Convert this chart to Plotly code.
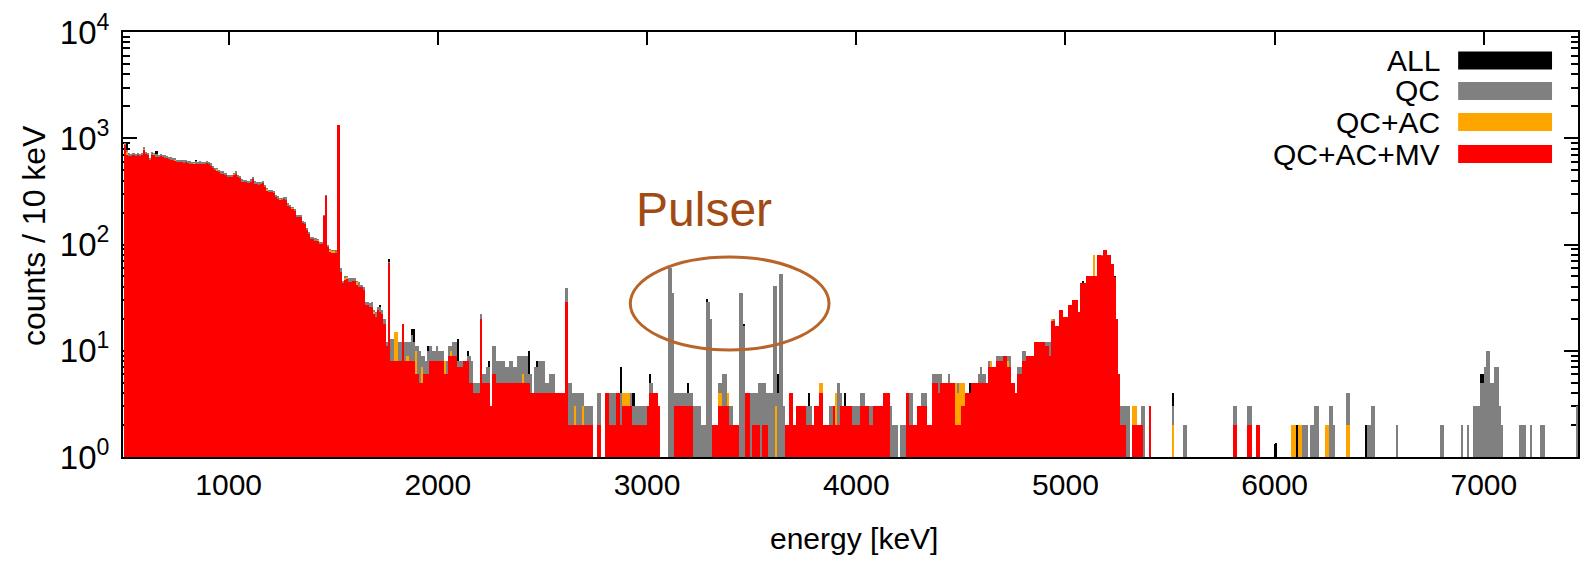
import plotly.graph_objects as go

# ---------------- data (counts per 10 keV bin, bin left edges 500 ... 7440 keV) ----------------
bin_start = 500
bin_width = 10

qc_counts = (
    [900, 770, 720, 715, 720, 710, 720, 715, 720, 830] +      # 500
    [750, 730, 650, 745, 720, 710, 700, 710, 695, 690] +      # 600
    [680, 670, 660, 650, 645, 625, 625, 625, 620, 625] +      # 700
    [610, 605, 600, 600, 605, 600, 605, 600, 600, 610] +      # 800
    [600, 580, 545, 530, 520, 500, 490, 490, 470, 455] +      # 900
    [450, 455, 470, 490, 450, 440, 410, 405, 405, 400] +      # 1000
    [410, 435, 395, 390, 385, 390, 400, 360, 338, 326] +      # 1100
    [326, 320, 292, 285, 272, 275, 282, 278, 244, 235] +      # 1200
    [227, 215, 190, 190, 188, 165, 163, 142, 130, 118] +      # 1300
    [118, 114, 112, 106, 106, 190, 290, 100, 90, 89] +        # 1400
    [89, 88, 1340, 60, 45, 50, 50, 48, 48, 48] +              # 1500
    [48, 45, 44, 42, 40, 29, 29, 28, 29, 24] +                # 1600
    [23, 26, 26, 24, 20, 12, 69, 13, 13, 15] +                # 1700
    [15, 12, 12, 18, 12, 12, 12, 14, 12, 11] +                # 1800
    [11, 10, 9, 9, 8, 10, 11, 10, 10, 11] +                   # 1900
    [10, 10, 10, 8, 8, 11, 11, 12, 12, 8] +                   # 2000
    [8, 8, 8, 8, 9, 9, 8, 5, 5, 5] +                          # 2100
    [22, 6, 6, 7, 7, 3, 11, 11, 8, 8] +                       # 2200
    [8, 8, 7, 7, 8, 8, 7, 7, 9, 9] +                          # 2300
    [9, 9, 9, 6, 6, 4, 7, 7, 8, 8] +                          # 2400
    [8, 5, 5, 6, 6, 6, 4, 4, 4, 4] +                          # 2500
    [4, 39, 5, 5, 4, 4, 4, 4, 4, 4] +                         # 2600
    [3, 3, 3, 3, 0, 0, 4, 4, 0, 0] +                          # 2700
    [4, 4, 4, 4, 4, 4, 4, 4, 4, 4] +                          # 2800
    [4, 4, 4, 3, 3, 3, 3, 3, 3, 3] +                          # 2900
    [3, 5, 5, 4, 4, 3, 0, 0, 0, 0] +                          # 3000
    [60, 60, 35, 4, 4, 4, 4, 4, 4, 4] +                       # 3100
    [4, 4, 3, 3, 3, 3, 2, 2, 29, 29] +                        # 3200
    [20, 2, 2, 2, 5, 5, 6, 6, 4, 3] +                         # 3300
    [3, 2, 2, 2, 35, 35, 17, 4, 4, 4] +                       # 3400
    [4, 4, 4, 5, 5, 5, 5, 4, 4, 4] +                          # 3500
    [41, 41, 4, 53, 53, 3, 2, 2, 4, 4] +                      # 3600
    [2, 3, 3, 3, 3, 3, 3, 3, 3, 2] +                          # 3700
    [3, 3, 5, 5, 2, 2, 2, 3, 3, 3] +                          # 3800
    [4, 5, 4, 3, 3, 3, 3, 3, 3, 3] +                          # 3900
    [3, 3, 4, 4, 3, 3, 3, 3, 3, 3] +                          # 4000
    [3, 3, 3, 4, 4, 4, 3, 2, 2, 2] +                          # 4100
    [0, 2, 2, 2, 4, 4, 4, 2, 2, 3] +                          # 4200
    [3, 4, 4, 4, 2, 2, 6, 6, 6, 6] +                          # 4300
    [6, 5, 5, 5, 6, 5, 5, 5, 5, 5] +                          # 4400
    [3, 3, 4, 4, 4, 5, 5, 5, 6, 7] +                          # 4500
    [6, 6, 5, 8, 8, 7, 7, 9, 9, 9] +                          # 4600
    [9, 9, 9, 9, 5, 5, 4, 7, 7, 10] +                         # 4700
    [10, 9, 9, 9, 9, 12, 12, 12, 12, 12] +                    # 4800
    [12, 12, 12, 20, 20, 17, 17, 24, 24, 21] +                # 4900
    [21, 27, 27, 30, 30, 30, 23, 43, 43, 43] +                # 5000
    [50, 50, 50, 50, 50, 80, 80, 79, 89, 89] +                # 5100
    [80, 80, 66, 49, 20, 6, 3, 3, 3, 3] +                     # 5200
    [3, 0, 3, 3, 2, 2, 3, 3, 0, 0] +                          # 5300
    [3, 0, 0, 0, 0, 0, 0, 0, 0, 0] +                          # 5400
    [0, 3, 0, 0, 0, 0, 2, 2, 0, 0] +                          # 5500
    [0, 0, 0, 0, 0, 0, 0, 0, 0, 0] +                          # 5600
    [0, 0, 0, 0, 0, 0, 0, 0, 0, 0] +                          # 5700
    [3, 3, 0, 0, 0, 0, 0, 3, 3, 0] +                          # 5800
    [0, 2, 2, 0, 0, 0, 0, 0, 0, 0] +                          # 5900
    [0, 0, 0, 0, 0, 0, 0, 0, 2, 2] +                          # 6000
    [0, 2, 2, 2, 2, 2, 0, 2, 2, 3] +                          # 6100
    [3, 0, 0, 0, 2, 2, 3, 3, 2, 0] +                          # 6200
    [0, 0, 0, 0, 4, 4, 0, 0, 0, 0] +                          # 6300
    [0, 0, 0, 0, 2, 2, 3, 3, 0, 0] +                          # 6400
    [0, 0, 0, 0, 0, 0, 0, 0, 2, 0] +                          # 6500
    [0, 0, 0, 0, 0, 0, 0, 0, 0, 0] +                          # 6600
    [0, 0, 0, 0, 0, 0, 0, 0, 0, 2] +                          # 6700
    [2, 0, 0, 0, 0, 0, 0, 0, 0, 2] +                          # 6800
    [0, 0, 2, 0, 0, 3, 3, 3, 5, 5] +                          # 6900
    [7, 10, 10, 5, 5, 7, 7, 3, 2, 0] +                        # 7000
    [0, 0, 0, 0, 0, 0, 0, 2, 2, 2] +                          # 7100
    [0, 0, 2, 0, 0, 0, 0, 2, 2, 0] +                          # 7200
    [0, 0, 0, 0, 0, 0, 0, 0, 0, 0] +                          # 7300
    [0, 0, 0, 0, 3]                                           # 7400
)

qc_ac_mv_counts = (
    [860, 700, 680, 680, 690, 680, 690, 680, 690, 780] +      # 500
    [715, 700, 620, 700, 690, 670, 670, 680, 660, 655] +      # 600
    [650, 640, 630, 620, 615, 600, 595, 600, 590, 595] +      # 700
    [585, 575, 570, 575, 575, 570, 575, 575, 570, 580] +      # 800
    [570, 550, 520, 505, 495, 480, 465, 465, 450, 435] +      # 900
    [430, 435, 450, 465, 430, 420, 390, 385, 385, 380] +      # 1000
    [390, 410, 375, 370, 365, 370, 380, 345, 322, 312] +      # 1100
    [312, 305, 278, 270, 260, 262, 268, 265, 232, 224] +      # 1200
    [217, 205, 182, 181, 180, 158, 156, 136, 125, 113] +      # 1300
    [113, 109, 107, 101, 101, 185, 285, 94, 85, 84] +         # 1400
    [84, 83, 1320, 55, 43, 46, 47, 44, 44, 45] +              # 1500
    [45, 42, 40, 40, 37, 27, 27, 26, 26, 22] +                # 1600
    [21, 24, 23, 22, 18, 11, 67, 8, 8, 8] +                   # 1700
    [8, 8, 8, 18, 8, 8, 8, 8, 8, 6] +                         # 1800
    [6, 5, 5, 6, 6, 6, 8, 8, 8, 8] +                          # 1900
    [8, 8, 8, 6, 6, 9, 9, 9, 9, 7] +                          # 2000
    [7, 7, 8, 8, 8, 5, 5, 4, 4, 4] +                          # 2100
    [20, 5, 5, 5, 5, 3, 6, 6, 5, 5] +                         # 2200
    [5, 5, 5, 5, 5, 5, 5, 5, 5, 5] +                          # 2300
    [5, 5, 5, 5, 4, 4, 4, 4, 4, 4] +                          # 2400
    [4, 4, 4, 4, 4, 4, 4, 4, 4, 4] +                          # 2500
    [4, 29, 2, 2, 2, 2, 2, 2, 2, 2] +                         # 2600
    [2, 2, 2, 2, 0, 0, 2, 2, 0, 0] +                          # 2700
    [4, 4, 2, 2, 2, 4, 4, 2, 3, 3] +                          # 2800
    [3, 3, 3, 2, 2, 2, 2, 2, 2, 2] +                          # 2900
    [3, 4, 4, 4, 4, 3, 0, 0, 0, 0] +                          # 3000
    [0, 0, 0, 3, 3, 3, 3, 3, 3, 3] +                          # 3100
    [3, 3, 0, 0, 0, 0, 0, 0, 0, 0] +                          # 3200
    [0, 2, 2, 2, 3, 3, 3, 3, 3, 2] +                          # 3300
    [2, 2, 2, 2, 0, 0, 0, 4, 4, 0] +                          # 3400
    [2, 2, 2, 2, 0, 2, 2, 2, 0, 0] +                          # 3500
    [0, 0, 0, 0, 0, 0, 2, 2, 4, 4] +                          # 3600
    [2, 3, 3, 3, 3, 3, 2, 2, 2, 2] +                          # 3700
    [3, 3, 4, 4, 2, 2, 2, 2, 2, 3] +                          # 3800
    [2, 2, 3, 3, 3, 3, 3, 3, 2, 2] +                          # 3900
    [2, 2, 3, 3, 3, 3, 2, 2, 3, 3] +                          # 4000
    [3, 3, 3, 4, 4, 4, 0, 0, 0, 0] +                          # 4100
    [0, 0, 0, 0, 4, 2, 2, 2, 2, 3] +                          # 4200
    [3, 3, 3, 3, 2, 2, 5, 5, 5, 4] +                          # 4300
    [5, 5, 5, 5, 5, 5, 5, 2, 2, 2] +                          # 4400
    [3, 3, 4, 4, 4, 5, 5, 5, 5, 5] +                          # 4500
    [5, 5, 5, 7, 7, 7, 7, 8, 8, 8] +                          # 4600
    [9, 9, 7, 7, 5, 5, 4, 6, 6, 8] +                          # 4700
    [8, 9, 9, 9, 9, 12, 12, 12, 12, 12] +                     # 4800
    [11, 11, 9, 19, 19, 17, 17, 24, 24, 21] +                 # 4900
    [21, 27, 27, 30, 30, 30, 23, 43, 43, 43] +                # 5000
    [50, 50, 50, 50, 50, 80, 80, 78, 89, 89] +                # 5100
    [80, 80, 65, 49, 20, 6, 2, 2, 2, 0] +                     # 5200
    [0, 0, 2, 2, 2, 2, 2, 0, 0, 0] +                          # 5300
    [3, 0, 0, 0, 0, 0, 0, 0, 0, 0] +                          # 5400
    [0, 0, 0, 0, 0, 0, 0, 0, 0, 0] +                          # 5500
    [0, 0, 0, 0, 0, 0, 0, 0, 0, 0] +                          # 5600
    [0, 0, 0, 0, 0, 0, 0, 0, 0, 0] +                          # 5700
    [2, 2, 0, 0, 0, 0, 0, 2, 2, 0] +                          # 5800
    [0, 2, 2, 0, 0, 0, 0, 0, 0, 0] +                          # 5900
    [0] * 10 + [0] * 10 + [0] * 10 + [0] * 10 + [0] * 10 +     # 6000-6400
    [0] * 10 + [0] * 10 + [0] * 10 + [0] * 10 + [0] * 10 +     # 6500-6900
    [0] * 10 + [0] * 10 + [0] * 10 + [0] * 10 +                # 7000-7300
    [0, 0, 0, 0, 0]                                           # 7400
)

# QC+AC : equal to QC+AC+MV except in the bins listed here (bin left edge -> counts)
qc_ac_bins = [510, 590, 640, 740, 830, 940, 1020, 1180, 1240, 1300, 1420, 1480, 1490, 1500,
              1550, 1560, 1610, 1690, 1790, 1800, 1850, 1890, 1920, 1960, 2030, 2060, 2250,
              2320, 2400, 2440, 2650, 2690, 2880, 2890, 2900, 2910, 3340, 3350, 3380, 3610,
              3820, 3830, 3900, 4470, 4480, 4490, 4500, 4510, 4640, 4720, 4930, 5130, 5320,
              5330, 5510, 6080, 6090, 6110, 6120, 6240, 6250, 6340, 6350]
qc_ac_vals = [740, 800, 715, 630, 590, 510, 460, 330, 268, 222, 110, 88, 87, 87,
              48, 49, 44, 23, 15, 15, 9, 10, 7, 7, 8, 10, 3,
              4, 6, 4, 3, 3, 4, 4, 4, 4, 4, 4, 4, 3,
              5, 5, 4, 5, 4, 5, 5, 5, 8, 8, 20, 80, 3,
              3, 2, 2, 2, 2, 2, 2, 2, 2, 2]

# ALL : equal to QC except in the bins listed here
all_bins = [500, 510, 650, 840, 1720, 1760, 1870, 1880, 1950, 2090, 2140, 2150, 2240,
            2430, 2470, 2870, 2930, 3010, 3190, 3280, 3460, 3620, 3650, 3770, 3940,
            4440, 4540, 4550, 5080, 5230, 5510, 6000, 6100, 6430, 6980, 6990]
all_vals = [930, 900, 760, 620, 27, 73, 16, 16, 11, 13, 10, 9, 8,
            10, 8, 7, 4, 6, 5, 31, 18, 6, 3, 4, 4,
            6, 5, 5, 45, 51, 4, 1.35, 2, 2, 6, 6]

series_names = ["ALL", "QC", "QC+AC", "QC+AC+MV"]
series_colors = ["#000000", "#808080", "#FFA500", "#FF0000"]

x_ticks = [1000, 2000, 3000, 4000, 5000, 6000, 7000]
y_ticks = [1, 10, 100, 1000, 10000]
y_ticktext = ["10<sup>0</sup>", "10<sup>1</sup>", "10<sup>2</sup>", "10<sup>3</sup>", "10<sup>4</sup>"]

# ---------------- build ----------------
n_bins = len(qc_counts)
assert n_bins == len(qc_ac_mv_counts) == 695, (len(qc_counts), len(qc_ac_mv_counts))
centers = [bin_start + bin_width * i + bin_width / 2 for i in range(n_bins)]

qc_ac_counts = list(qc_ac_mv_counts)
for b, v in zip(qc_ac_bins, qc_ac_vals):
    qc_ac_counts[(b - bin_start) // bin_width] = v
all_counts = list(qc_counts)
for b, v in zip(all_bins, all_vals):
    all_counts[(b - bin_start) // bin_width] = v


def clean(vals):
    return [v if v and v > 0 else None for v in vals]


fig = go.Figure()
for name, vals, col in zip(series_names,
                           [all_counts, qc_counts, qc_ac_counts, qc_ac_mv_counts],
                           series_colors):
    fig.add_trace(go.Bar(x=centers, y=clean(vals), width=bin_width, name=name,
                         marker=dict(color=col, line=dict(width=0)), showlegend=False))

FONT = "Liberation Sans, Arial, sans-serif"
L, R, T, B = 123, 5, 32, 104
W, H = 1585, 561
pw, ph = W - L - R, H - T - B


def px(xp):   # pixel x -> paper
    return (xp - L) / pw


def py(yp):   # pixel y -> paper
    return (H - B - yp) / ph


minor_vals = [m * 10 ** d for d in range(0, 4) for m in range(2, 10)]

fig.update_layout(
    width=W, height=H,
    margin=dict(l=L, r=R, t=T, b=B, pad=0),
    paper_bgcolor="white", plot_bgcolor="white",
    barmode="overlay", bargap=0,
    font=dict(family=FONT, size=29, color="black"),
    xaxis=dict(range=[495, 7450], tickvals=x_ticks, ticktext=[str(v) for v in x_ticks],
               ticks="inside", ticklen=13, tickwidth=1.5, tickcolor="black",
               showline=True, linecolor="black", linewidth=2, mirror="ticks",
               showgrid=False, zeroline=False, layer="below traces",
               tickfont=dict(size=30, family=FONT)),
    yaxis=dict(type="log", range=[0, 4], tickvals=y_ticks, ticktext=y_ticktext,
               ticks="inside", ticklen=14, tickwidth=1.5, tickcolor="black",
               minor=dict(tickmode="array", tickvals=minor_vals, ticks="inside",
                          ticklen=7, tickwidth=1.5, tickcolor="black", showgrid=False),
               showline=True, linecolor="black", linewidth=2, mirror="ticks",
               showgrid=False, zeroline=False, layer="below traces",
               ticklabelstandoff=5,
               tickfont=dict(size=33, family=FONT)),
)

annotations = [
    dict(text="energy [keV]", xref="paper", yref="paper", x=px(855), y=py(538),
         xanchor="center", yanchor="middle", showarrow=False,
         font=dict(size=30, family=FONT, color="black")),
    dict(text="counts / 10 keV", xref="paper", yref="paper", x=px(34), y=py(236),
         xanchor="center", yanchor="middle", textangle=-90, showarrow=False,
         font=dict(size=32, family=FONT, color="black")),
    dict(text="Pulser", xref="paper", yref="paper", x=px(705), y=py(209),
         xanchor="center", yanchor="middle", showarrow=False,
         font=dict(size=48, family=FONT, color="#A24A14")),
]
shapes = [
    dict(type="circle", xref="paper", yref="paper", x0=px(631), x1=px(830),
         y0=py(350), y1=py(257), line=dict(color="#B8652A", width=3)),
]
legend_rows = [(60.5, 0), (91, 1), (122, 2), (154, 3)]
for yc, k in legend_rows:
    annotations.append(dict(text=series_names[k], xref="paper", yref="paper",
                            x=px(1444), y=py(yc), xanchor="right", yanchor="middle",
                            showarrow=False, font=dict(size=30, family=FONT, color="black")))
    shapes.append(dict(type="rect", xref="paper", yref="paper", x0=px(1460), x1=px(1554),
                       y0=py(yc + 9), y1=py(yc - 9), line=dict(width=0),
                       fillcolor=series_colors[k]))

fig.update_layout(annotations=annotations, shapes=shapes)
fig.write_html("out.html")
